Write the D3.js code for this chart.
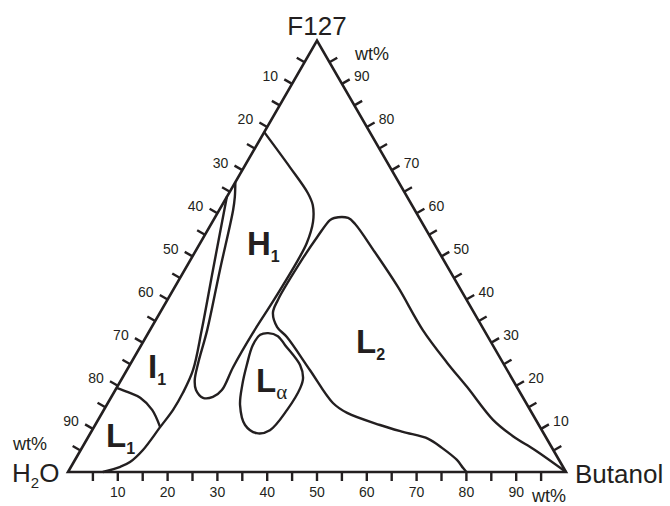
<!DOCTYPE html>
<html>
<head>
<meta charset="utf-8">
<script src="https://cdn.jsdelivr.net/npm/d3@7"></script>
<style>
  body { margin: 0; background: #fff; }
  text { font-family: Arial, "Liberation Sans", sans-serif; fill: #231f20; }
</style>
</head>
<body>
<div id="chart"></div>
<script>
// every composition is [Butanol wt%, F127 wt%], water is the rest
const ticks = [5, 10, 15, 20, 25, 30, 35, 40, 45, 50, 55, 60, 65, 70, 75, 80, 85, 90, 95];
const tickLabels = [10, 20, 30, 40, 50, 60, 70, 80, 90];

// L1 / I1 border
const arcL1 = [[0, 19.5], [2.8, 18.5], [5.9, 17.2], [9.7, 14.4], [13.3, 10.4]];

// right border of L1 and I1
const lineI1 = [[7, 0], [9.9, 1.2], [11.3, 2.3], [12.5, 5.1], [13.3, 10.4], [13.9, 14.4],
  [13.9, 18.3], [13.3, 23.6], [10.4, 32.9], [5.7, 46.8], [0, 63.8]];

// H1 region, from the edge down and back up
const borderH1 = [[0, 78.8], [9.2, 70.7], [15.8, 64.7], [18.2, 61.9], [20.2, 58.0], [21.4, 53.1],
  [21.6, 49.2], [21.4, 39.9], [21.0, 32.2], [21.0, 24.3], [21.4, 19.0], [20.4, 17.4],
  [18.5, 17.2], [16.2, 19.0], [14.8, 21.3], [13.5, 25.3], [11.5, 32.9], [7.1, 46.8],
  [2.8, 60.7], [1.6, 63.8], [0, 67.2]];

// L2 region, from the base to the Butanol corner
const borderL2 = [[80, 0], [78.9, 0.9], [76.7, 2.8], [72.3, 5.6], [68.5, 7.7], [62.6, 9.3],
  [57.2, 10.9], [49.2, 13.7], [45.2, 16.0], [36.8, 23.6], [28.3, 31.3], [25.2, 33.6],
  [22.7, 36.9], [22.2, 39.9], [22.4, 49.8], [22.8, 54.5], [23.4, 58.4], [24.0, 58.9],
  [26.8, 58.9], [28.9, 57.5], [36.1, 51.0], [44.8, 42.9], [54.8, 32.9], [63.5, 25.3],
  [70.3, 19.7], [79.3, 12.1], [85.2, 8.3], [91.2, 5.1], [100, 0]];

// L alpha closed loop
const loopLa = [[24.1, 32.2], [26.4, 31.5], [28.9, 29.4], [34.2, 24.8], [36.3, 21.8], [36.9, 19.5],
  [36.8, 14.4], [35.7, 9.7], [33.4, 9.0], [30.1, 10.9], [26.8, 15.5], [24.9, 20.2],
  [23.5, 24.8], [22.4, 29.4], [22.7, 31.8]];

const width = 670, height = 506;
const side = 498;
const x0 = 68, y0 = 472;
const ink = "#231f20";
const tickLen = 9;

const svg = d3.select("#chart").append("svg")
    .attr("width", width)
    .attr("height", height);

const x = d3.scaleLinear().domain([0, 100]).range([x0, x0 + side]);
const y = d3.scaleLinear().domain([0, 100]).range([y0, y0 - side * Math.sqrt(3) / 2]);

// ternary to screen
const pt = d => [x(d[0] + d[1] / 2), y(d[1])];

const smooth = d3.line().x(d => pt(d)[0]).y(d => pt(d)[1]).curve(d3.curveCatmullRom.alpha(0.5));
const smoothClosed = d3.line().x(d => pt(d)[0]).y(d => pt(d)[1]).curve(d3.curveCatmullRomClosed.alpha(0.5));

// triangle
svg.append("path")
    .attr("d", d3.line()([pt([0, 0]), pt([100, 0]), pt([0, 100])]) + "Z")
    .attr("fill", "none")
    .attr("stroke", ink)
    .attr("stroke-width", 2.6)
    .attr("stroke-linejoin", "miter");

// ticks on the three sides
const c = Math.cos(Math.PI / 6), s = Math.sin(Math.PI / 6);
const tickG = svg.append("g").attr("stroke", ink).attr("stroke-width", 2.4);

ticks.forEach(t => {
    const b = pt([t, 0]);
    tickG.append("line").attr("x1", b[0]).attr("y1", b[1]).attr("x2", b[0]).attr("y2", b[1] + tickLen);
    const l = pt([0, 100 - t]);
    tickG.append("line").attr("x1", l[0]).attr("y1", l[1]).attr("x2", l[0] - c * tickLen).attr("y2", l[1] - s * tickLen);
    const r = pt([100 - t, t]);
    tickG.append("line").attr("x1", r[0]).attr("y1", r[1]).attr("x2", r[0] + c * tickLen).attr("y2", r[1] - s * tickLen);
});

tickLabels.forEach(t => {
    const b = pt([t, 0]);
    svg.append("text").attr("x", b[0]).attr("y", 497).attr("text-anchor", "middle")
        .style("font-size", "14px").text(t);
    const l = pt([0, 100 - t]);
    svg.append("text").attr("x", l[0] - 14).attr("y", l[1] - 2.5).attr("text-anchor", "end")
        .style("font-size", "14px").text(t);
    const r = pt([100 - t, t]);
    svg.append("text").attr("x", r[0] + 12).attr("y", r[1] - 2.5).attr("text-anchor", "start")
        .style("font-size", "14px").text(t);
});

// phase borders
const curves = svg.append("g")
    .attr("fill", "none")
    .attr("stroke", ink)
    .attr("stroke-width", 2.4)
    .attr("stroke-linejoin", "round");

curves.append("path").attr("d", smooth(arcL1));
curves.append("path").attr("d", smooth(lineI1));
curves.append("path").attr("d", smooth(borderH1));
curves.append("path").attr("d", smooth(borderL2));
curves.append("path").attr("d", smoothClosed(loopLa));

// corner names
const hw = svg.append("text").attr("x", 12).attr("y", 482).style("font-size", "26px");
hw.append("tspan").text("H");
hw.append("tspan").attr("dy", 6).style("font-size", "15px").text("2");
hw.append("tspan").attr("dy", -6).text("O");

svg.append("text").attr("x", 575).attr("y", 483).style("font-size", "26px").text("Butanol");
svg.append("text").attr("x", 317).attr("y", 35).attr("text-anchor", "middle").style("font-size", "26px").text("F127");

svg.append("text").attr("x", 355).attr("y", 60).style("font-size", "18px").text("wt%");
svg.append("text").attr("x", 13).attr("y", 450).style("font-size", "18px").text("wt%");
svg.append("text").attr("x", 532).attr("y", 502).style("font-size", "18px").text("wt%");

// region names
function region(px, py, main, sub, subFont) {
    const t = svg.append("text").attr("x", px).attr("y", py)
        .style("font-size", "33px").style("font-weight", "bold");
    t.append("tspan").text(main);
    const st = t.append("tspan").attr("dy", 7).text(sub);
    if (subFont) {
        st.style("font-family", subFont).style("font-weight", "normal").style("font-size", "21px");
    } else {
        st.style("font-size", "16px");
    }
}
region(247, 255, "H", "1");
region(106, 447, "L", "1");
region(148, 378, "I", "1");
region(356, 353, "L", "2");
region(256, 392, "L", "\u03b1", "'Liberation Serif', 'Times New Roman', serif");
</script>
</body>
</html>
